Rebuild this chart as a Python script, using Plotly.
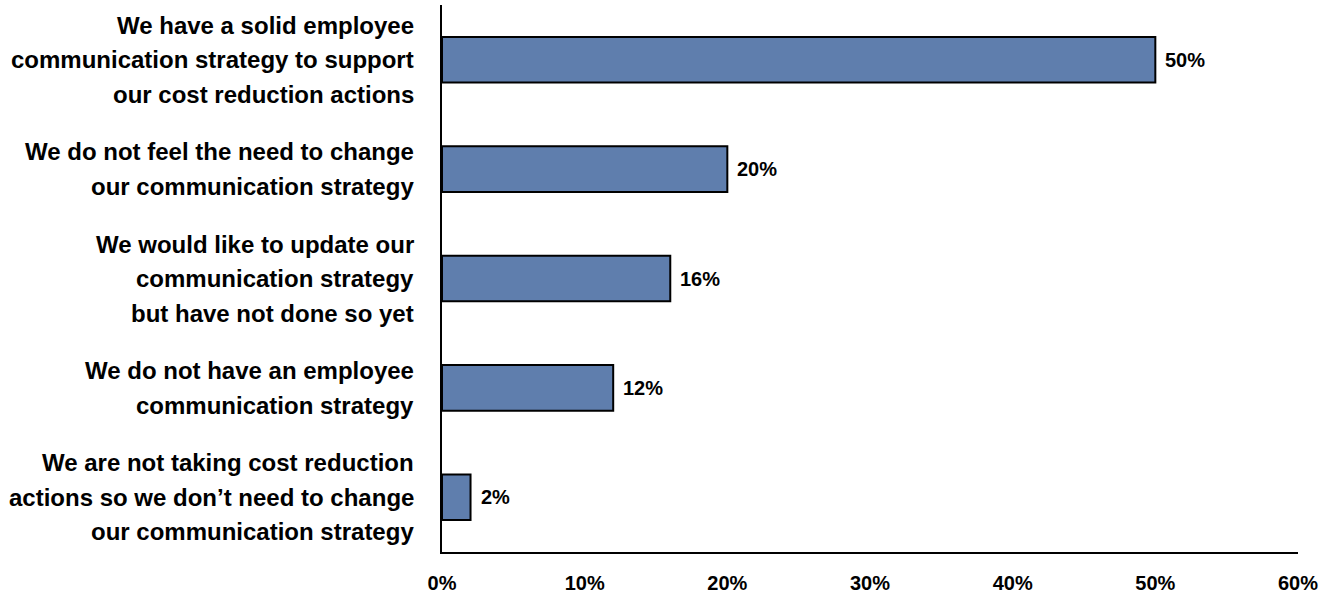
import plotly.graph_objects as go

# Survey responses on employee communication strategy
categories = [
    "We have a solid employee<br>communication strategy to support<br>our cost reduction actions",
    "We do not feel the need to change<br>our communication strategy",
    "We would like to update our<br>communication strategy<br>but have not done so yet",
    "We do not have an employee<br>communication strategy",
    "We are not taking cost reduction<br>actions so we don\u2019t need to change<br>our communication strategy",
]
shares = [50, 20, 16, 12, 2]
x_ticks = [0, 10, 20, 30, 40, 50, 60]

FONT = "Arial, 'Liberation Sans', sans-serif"
BAR_COLOR = "#5f7ead"
LINE_STEP = 34.5  # vertical distance between label lines, px

fig = go.Figure(
    go.Bar(
        x=shares,
        y=categories,
        orientation="h",
        marker=dict(color=BAR_COLOR, line=dict(color="black", width=2)),
        hoverinfo="skip",
    )
)

annotations = []
# Category labels, one annotation per line for the wider line spacing
for cat in categories:
    lines = cat.split("<br>")
    n = len(lines)
    for i, line in enumerate(lines):
        offset = ((n - 1) / 2 - i) * LINE_STEP
        annotations.append(dict(
            x=0, xref="paper", xanchor="right", xshift=-26,
            y=cat, yref="y", yanchor="middle", yshift=offset,
            text=f"<b>{line}</b>", showarrow=False,
            font=dict(family=FONT, size=24, color="black"),
        ))

# Value labels at the end of each bar
for cat, v in zip(categories, shares):
    annotations.append(dict(
        x=v, xref="x", xanchor="left", xshift=8,
        y=cat, yref="y", yanchor="middle",
        text=f"<b>{v}%</b>", showarrow=False,
        font=dict(family=FONT, size=20, color="black"),
    ))

fig.update_layout(
    width=1336, height=596,
    margin=dict(l=442, r=38, t=5, b=44),
    paper_bgcolor="white", plot_bgcolor="white",
    bargap=0.583,
    showlegend=False,
    annotations=annotations,
    xaxis=dict(
        range=[0, 60], tickvals=x_ticks,
        ticktext=[f"<b>{t}%</b>" for t in x_ticks],
        tickfont=dict(family=FONT, size=20, color="black"),
        showgrid=False, zeroline=False,
        showline=True, linecolor="black", linewidth=2,
        ticks="outside", ticklen=12, tickcolor="rgba(0,0,0,0)",
        automargin=False, fixedrange=True,
    ),
    yaxis=dict(
        categoryorder="array", categoryarray=categories,
        autorange="reversed",
        showticklabels=False, showgrid=False, zeroline=False,
        showline=True, linecolor="black", linewidth=2,
        ticks="", automargin=False, fixedrange=True,
    ),
)

fig.write_html("out.html", config={"displayModeBar": False})
